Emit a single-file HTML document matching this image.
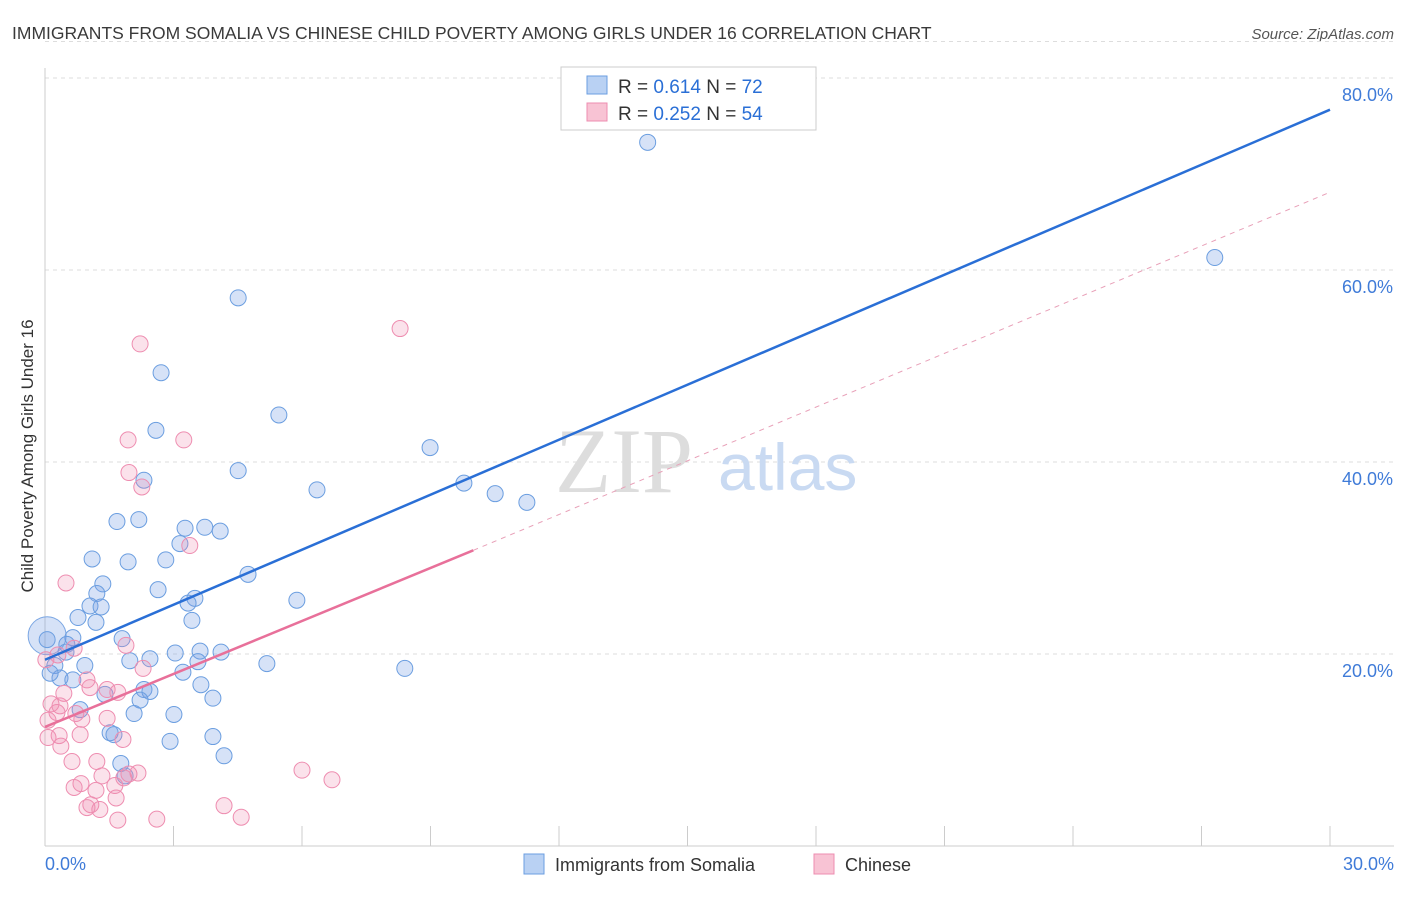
<!DOCTYPE html>
<html><head><meta charset="utf-8"><style>
body{margin:0;background:#fff;font-family:"Liberation Sans",sans-serif;}
</style></head><body>
<svg id="chart" width="1406" height="892" xmlns="http://www.w3.org/2000/svg" font-family="Liberation Sans, sans-serif">
<text x="12" y="39" font-size="17.5" fill="#3a3a3a">IMMIGRANTS FROM SOMALIA VS CHINESE CHILD POVERTY AMONG GIRLS UNDER 16 CORRELATION CHART</text>
<text x="1394" y="39" font-size="15" fill="#555" font-style="italic" text-anchor="end">Source: ZipAtlas.com</text>
<text transform="translate(33,456) rotate(-90)" font-size="17" fill="#333" text-anchor="middle">Child Poverty Among Girls Under 16</text>
<g id="grid"></g>
<text x="555" y="492" font-size="92" fill="#ddd" font-family="Liberation Serif, serif">ZIP</text>
<text x="718" y="490" font-size="66" fill="#c9daf2">atlas</text>
<g id="pts"></g>
<g id="lines"></g>
<g>
<rect x="561" y="67" width="255" height="63" fill="#fff" stroke="#ccc"/>
<rect x="587" y="76" width="20" height="18" fill="#b9d1f3" stroke="#6b9ee0"/>
<rect x="587" y="103" width="20" height="18" fill="#f8c3d4" stroke="#ee8db0"/>
<text x="618" y="93" font-size="19" fill="#333">R = <tspan fill="#2a6fd6">0.614</tspan>   N = <tspan fill="#2a6fd6">72</tspan></text>
<text x="618" y="120" font-size="19" fill="#333">R = <tspan fill="#2a6fd6">0.252</tspan>   N = <tspan fill="#2a6fd6">54</tspan></text>
</g>
<g>
<rect x="524" y="854" width="20" height="20" fill="#b9d1f3" stroke="#6b9ee0"/>
<text x="555" y="871" font-size="18" fill="#333">Immigrants from Somalia</text>
<rect x="814" y="854" width="20" height="20" fill="#f8c3d4" stroke="#ee8db0"/>
<text x="845" y="871" font-size="18" fill="#333">Chinese</text>
</g>
</svg>
<script>
const xTicks=[0,3,6,9,12,15,18,21,24,27,30];
const yTicks=[20,40,60,80];
const yTickLabels=["20.0%","40.0%","60.0%","80.0%"];
const blueX=[14.07,27.31,4.51,2.71,5.46,2.59,8.99,4.51,2.31,6.35,9.78,10.51,11.25,1.68,2.19,3.27,3.73,4.09,3.15,2.82,1.10,1.94,4.74,1.35,2.64,1.21,3.50,3.34,5.88,1.05,1.31,0.77,1.19,3.43,0.65,1.80,0.51,0.05,0.49,3.62,4.11,2.45,3.04,1.98,0.23,0.93,5.18,8.40,3.57,3.22,0.35,0.12,0.65,3.64,1.40,2.31,2.45,3.92,2.22,0.82,3.01,2.08,1.52,1.61,2.92,3.92,4.18,1.77,1.87];
const blueY=[73.3,61.3,57.1,49.3,44.9,43.3,41.5,39.1,38.1,37.1,37.8,36.7,35.8,33.8,34.0,33.1,33.2,32.8,31.5,29.8,29.9,29.6,28.3,27.3,26.7,26.3,25.8,25.3,25.6,25.0,24.9,23.8,23.3,23.5,21.7,21.6,21.0,21.5,20.2,20.3,20.2,19.5,20.1,19.3,18.8,18.8,19.0,18.5,19.2,18.1,17.5,18.0,17.3,16.8,15.8,16.3,16.1,15.4,15.2,14.2,13.7,13.8,11.8,11.6,10.9,11.4,9.4,8.6,7.3];
const pinkX=[8.29,2.22,1.94,3.24,1.96,2.26,3.38,0.49,0.68,1.89,0.30,0.02,0.98,1.05,1.70,1.45,0.44,0.14,0.35,0.28,0.72,1.45,0.86,0.07,0.07,0.33,0.82,1.82,0.37,2.29,1.21,0.63,1.33,2.17,1.96,1.84,0.84,0.68,1.63,1.19,1.66,1.07,0.98,1.28,1.70,2.61,4.18,4.58,6.00,6.70];
const pinkY=[53.9,52.3,42.3,42.3,38.9,37.4,31.3,27.4,20.6,20.9,19.9,19.4,17.3,16.5,16.0,16.3,15.9,14.8,14.6,13.9,13.8,13.3,13.2,13.1,11.3,11.5,11.6,11.1,10.4,18.5,8.8,8.8,7.3,7.6,7.5,7.1,6.5,6.1,6.3,5.8,5.0,4.3,4.0,3.8,2.7,2.8,4.2,3.0,7.9,6.9];
const blueFit=[19.4,76.7];
const pinkFit=[12.4,30.8,68.1];
const NS="http://www.w3.org/2000/svg";
const X=v=>45+v/30*1285, Y=v=>846-v*9.6;
function mk(t,a,p){const e=document.createElementNS(NS,t);for(const k in a)e.setAttribute(k,a[k]);p.appendChild(e);return e;}
const g=document.getElementById('grid');
yTicks.forEach((t,i)=>{
 const l=mk('line',{x1:45,x2:1394,y1:Y(t),y2:Y(t),stroke:'#ddd','stroke-dasharray':'4,4'},g);
 
 
 const tx=mk('text',{x:1393,y:Y(t)+23,'font-size':18,fill:'#3f7bd8','text-anchor':'end'},g);tx.textContent=yTickLabels[i];
 
 
});
mk('line',{x1:45,x2:1394,y1:Y(83.8),y2:Y(83.8),stroke:'#ddd','stroke-dasharray':'4,4'},g);
const ax=mk('line',{x1:45,x2:45,y1:68,y2:846,stroke:'#ccc'},g);


const bx=mk('line',{x1:45,x2:1394,y1:846,y2:846,stroke:'#ccc'},g);


xTicks.forEach(t=>{const l=mk('line',{x1:X(t),x2:X(t),y1:826,y2:846,stroke:'#ccc'},g);
 
 });
let t0=mk('text',{x:45,y:870,'font-size':18,fill:'#3f7bd8'},g);t0.textContent='0.0%';


let t1=mk('text',{x:1394,y:870,'font-size':18,fill:'#3f7bd8','text-anchor':'end'},g);t1.textContent='30.0%';


const P=document.getElementById('pts');
const big=mk('circle',{cx:X(0.05),cy:Y(21.9),r:19,fill:'rgba(120,160,230,0.3)',stroke:'#7aa6e3'},P);


blueX.forEach((x,i)=>{const c=mk('circle',{cx:X(x),cy:Y(blueY[i]),r:8,fill:'rgba(120,160,230,0.3)',stroke:'#6b9ee0','stroke-width':1},P);
 
 });
pinkX.forEach((x,i)=>{const c=mk('circle',{cx:X(x),cy:Y(pinkY[i]),r:8,fill:'rgba(240,140,175,0.25)',stroke:'#ee8db0','stroke-width':1},P);
 
 });
const L=document.getElementById('lines');
const bl=mk('line',{x1:X(0),y1:Y(blueFit[0]),x2:X(30),y2:Y(blueFit[1]),stroke:'#2a6fd6','stroke-width':2.5},L);


const pd=mk('line',{x1:X(10),y1:Y(pinkFit[1]),x2:X(30),y2:Y(pinkFit[2]),stroke:'#e8a0b8','stroke-width':1,'stroke-dasharray':'5,5'},L);


const pl=mk('line',{x1:X(0),y1:Y(pinkFit[0]),x2:X(10),y2:Y(pinkFit[1]),stroke:'#e8709a','stroke-width':2.5},L);


</script>
</body></html>
